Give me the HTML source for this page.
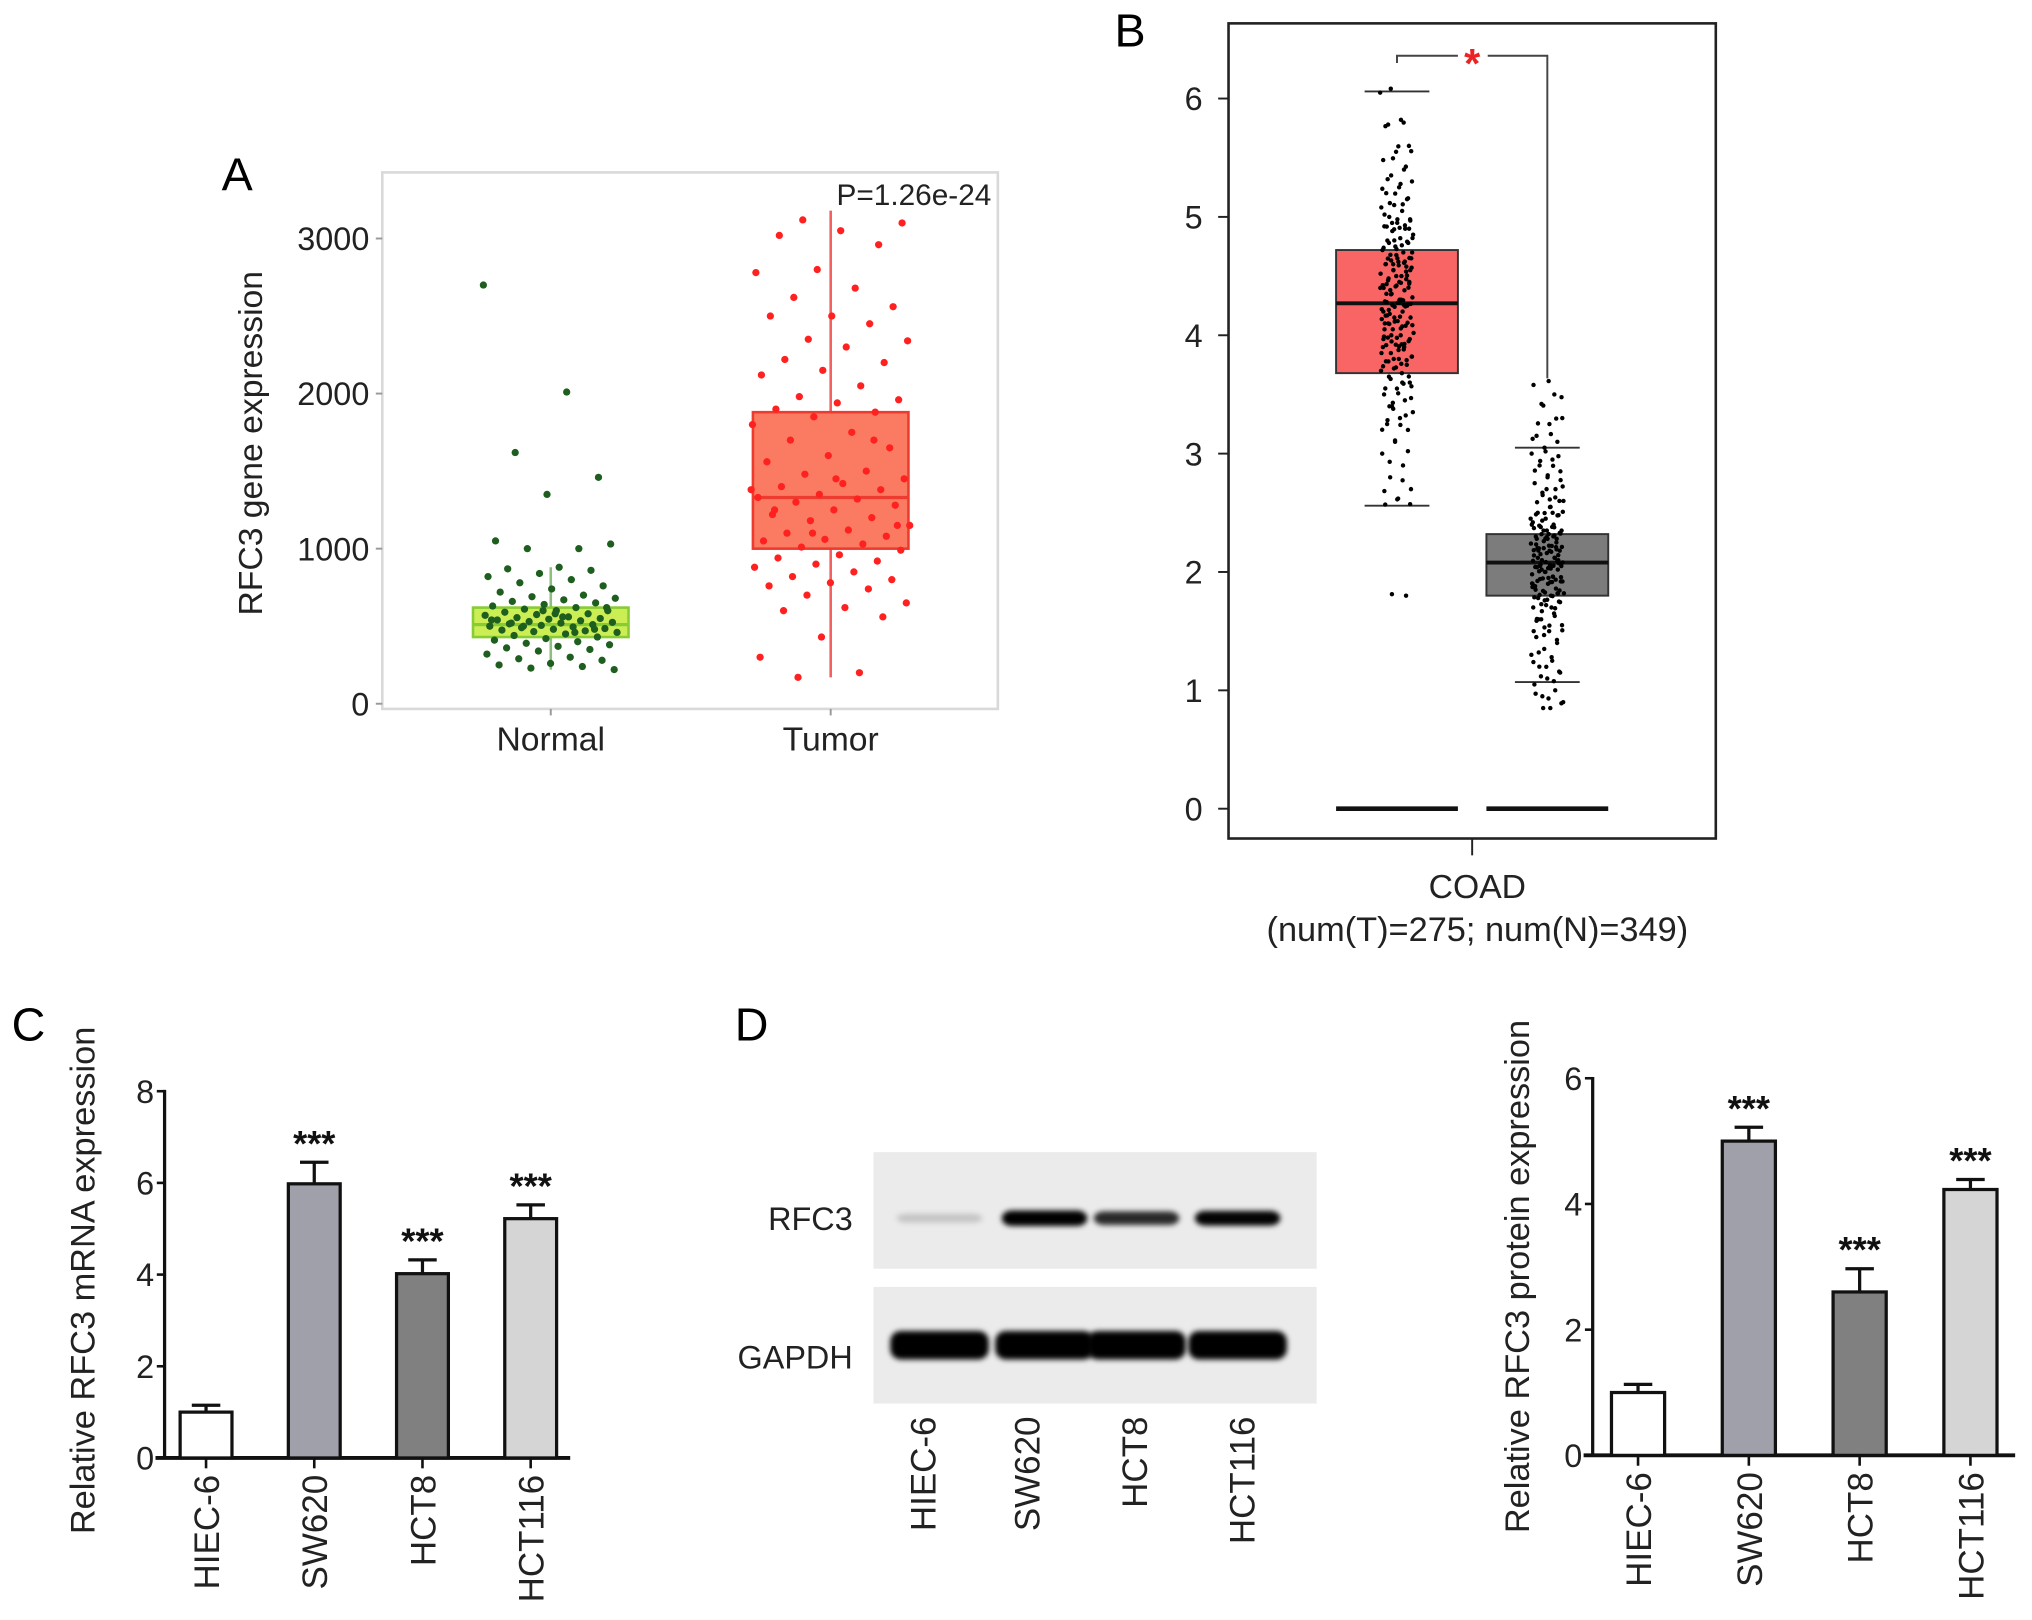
<!DOCTYPE html>
<html><head><meta charset="utf-8"><style>
html,body{margin:0;padding:0;background:#fff}
svg{display:block}
text{font-family:"Liberation Sans",Arial,sans-serif}
</style></head><body>
<svg id="fig" width="2032" height="1620" viewBox="0 0 1568 1250" xmlns="http://www.w3.org/2000/svg">
<defs>
<filter id="blur" x="-20%" y="-50%" width="140%" height="200%"><feGaussianBlur stdDeviation="3"/></filter>
<filter id="blur2" x="-20%" y="-50%" width="140%" height="200%"><feGaussianBlur stdDeviation="2"/></filter>
</defs>
<rect width="1568" height="1250" fill="#fff"/>
<g id="pA"></g>
<g id="pB"></g>
<g id="pC"></g>
<g id="pD"></g>
</svg>
<script>
// ---------- Panel A data ----------
const aCategories = ["Normal","Tumor"];
const aYTicks = [0,1000,2000,3000];
const aNormalBox = [430, 510, 620, 220, 880]; // q1, median, q3, whiskerLow, whiskerHigh
const aTumorBox = [1000, 1330, 1880, 170, 3180];
const aNormalPoints = [2700,2010,1620,1460,1350,1050,1000,1000,1030,880,870,860,840,820,800,780,760,740,720,700,690,680,670,660,650,640,630,620,610,600,600,590,580,575,570,560,555,550,545,540,535,530,525,520,515,510,505,500,495,490,485,480,475,470,465,460,450,440,430,420,410,400,390,380,370,360,350,340,320,300,290,280,260,250,240,230,220,560,520,480,600,540,460,500,620,580];
const aTumorPoints = [3120,3100,3050,3020,2960,2800,2780,2680,2620,2560,2500,2500,2450,2350,2340,2300,2220,2200,2150,2120,2050,1980,1960,1940,1900,1880,1850,1800,1750,1700,1650,1600,1560,1500,1480,1450,1420,1400,1380,1350,1330,1320,1300,1280,1250,1220,1200,1180,1150,1120,1100,1080,1060,1050,1030,1010,990,960,940,920,900,880,850,820,800,780,760,740,700,650,620,600,560,430,300,200,170,1150,1450,1250,1700,1100,1380];
const aPText = "P=1.26e-24";

// ---------- Panel B data ----------
const bYTicks = [0,1,2,3,4,5,6];
const bTumorBox = [3.68, 4.27, 4.72, 2.56, 6.06];
const bNormalBox = [1.80, 2.08, 2.32, 1.07, 3.05];
const bTumorPoints = [6.05,5.82,5.78,5.6,5.55,5.48,5.4,5.35,5.3,5.25,5.2,5.15,5.1,5.08,5.05,5.0,4.98,4.95,4.92,4.9,4.88,4.85,4.82,4.8,4.78,4.75,4.72,4.7,4.68,4.65,4.62,4.6,4.58,4.55,4.52,4.5,4.48,4.45,4.42,4.4,4.38,4.35,4.32,4.3,4.28,4.26,4.24,4.22,4.2,4.18,4.15,4.12,4.1,4.08,4.05,4.02,4.0,3.98,3.95,3.92,3.9,3.88,3.85,3.82,3.8,3.78,3.75,3.72,3.7,3.68,3.65,3.6,3.55,3.5,3.45,3.4,3.35,3.3,3.25,3.2,3.1,3.0,2.9,2.8,2.7,2.62,2.57,1.8,4.6,4.4,4.3,4.1,4.9,4.5,4.2,3.9,4.0,4.7,4.45,4.35,4.25,4.15,3.85,3.6,3.4,4.55,4.65,4.05];
const bNormalPoints = [3.58,3.5,3.42,3.3,3.25,3.15,3.1,3.05,3.0,2.95,2.9,2.85,2.8,2.75,2.7,2.65,2.6,2.55,2.5,2.48,2.45,2.42,2.4,2.38,2.35,2.32,2.3,2.28,2.26,2.24,2.22,2.2,2.18,2.16,2.14,2.12,2.1,2.08,2.06,2.04,2.02,2.0,1.98,1.96,1.94,1.92,1.9,1.88,1.86,1.84,1.82,1.8,1.78,1.75,1.72,1.7,1.65,1.6,1.55,1.5,1.45,1.4,1.35,1.3,1.25,1.2,1.15,1.1,1.05,1.0,0.95,0.9,0.85,2.2,2.1,2.0,1.9,2.3,2.15,2.05,1.95,1.85,2.25,2.35,2.45,1.7,1.6,2.6,2.7,1.5,2.12,2.02,1.92,2.18,2.28,1.82,1.76,2.4,2.5];
const bCategory = "COAD";
const bSubLabel = "(num(T)=275; num(N)=349)";

// ---------- Panel C data ----------
const cCategories = ["HIEC-6","SW620","HCT8","HCT116"];
const cValues = [1.0, 5.98, 4.02, 5.22];
const cErrors = [0.15, 0.47, 0.3, 0.3];
const cYTicks = [0,2,4,6,8];
const cSig = ["","***","***","***"];

// ---------- Panel D data ----------
const dCategories = ["HIEC-6","SW620","HCT8","HCT116"];
const dValues = [1.0, 5.0, 2.6, 4.23];
const dErrors = [0.13, 0.22, 0.37, 0.16];
const dYTicks = [0,2,4,6];
const dSig = ["","***","***","***"];
const dBandRFC3 = [0.15, 1.0, 0.75, 0.9]; // relative band intensity
const dBandGAPDH = [1.0, 1.0, 1.0, 1.0];

const NS = "http://www.w3.org/2000/svg";
function mk(parent, tag, attrs, txt){
  const e = document.createElementNS(NS, tag);
  for (const k in attrs) e.setAttribute(k, attrs[k]);
  if (txt !== undefined) e.textContent = txt;
  parent.appendChild(e);
  return e;
}
function jit(i, w){
  const f = ((i * 0.618034) % 1);
  return (f - 0.5) * 2 * w;
}
function jit2(i, w){
  const f = ((i * 0.41421356 + 0.3) % 1);
  return (f - 0.5) * 2 * w;
}

// ================= Panel A =================
(function(){
  const g = document.getElementById('pA');
  const y = v => 543 - v * (543 - 184) / 3000;
  const xc = [425, 641];
  let t = mk(g,'text',{x:183,y:147,'font-size':36,'text-anchor':'middle'},'A');
   
  let fr = mk(g,'rect',{x:295,y:133,width:475,height:414,fill:'none',stroke:'#d9d9d9','stroke-width':2});
   
  aYTicks.forEach(v=>{
    const tl = mk(g,'text',{x:285,y:y(v)+9,'font-size':25,'text-anchor':'end',fill:'#222'},String(v));
     
    mk(g,'line',{x1:290,x2:295,y1:y(v),y2:y(v),stroke:'#999','stroke-width':1.5});
  });
  const yt = mk(g,'text',{x:0,y:0,'font-size':26,'text-anchor':'middle',fill:'#222',transform:'translate(202,342) rotate(-90)'},'RFC3 gene expression');
   
  aCategories.forEach((c,i)=>{
    const l = mk(g,'text',{x:xc[i],y:579,'font-size':26,'text-anchor':'middle',fill:'#222'},c);
     
    mk(g,'line',{x1:xc[i],x2:xc[i],y1:547,y2:552,stroke:'#999','stroke-width':1.5});
  });
  const boxes = [
    {b:aNormalBox, pts:aNormalPoints, half:60, fill:'#ccee55', stroke:'#88cc33', wc:'#8fbf80', pc:'#1e5e1e', name:'normal', jw:52},
    {b:aTumorBox, pts:aTumorPoints, half:60, fill:'#fb7b62', stroke:'#ee3b30', wc:'#f26060', pc:'#ff2020', name:'tumor', jw:62}
  ];
  boxes.forEach((B,i)=>{
    const x = xc[i];
    const wl = mk(g,'line',{x1:x,x2:x,y1:y(B.b[3]),y2:y(B.b[4]),stroke:B.wc,'stroke-width':2});
     
    const r = mk(g,'rect',{x:x-B.half,y:y(B.b[2]),width:2*B.half,height:y(B.b[0])-y(B.b[2]),fill:B.fill,stroke:B.stroke,'stroke-width':2});
     
    const m = mk(g,'line',{x1:x-B.half,x2:x+B.half,y1:y(B.b[1]),y2:y(B.b[1]),stroke:B.stroke,'stroke-width':2.5});
     
    B.pts.forEach((v,k)=>{
      const c = mk(g,'circle',{cx:x+jit(k+i*7,B.jw),cy:y(v),r:2.8,fill:B.pc});
       
    });
  });
  const p = mk(g,'text',{x:765,y:158,'font-size':23,'text-anchor':'end',fill:'#222'},aPText);
   
})();

// ================= Panel B =================
(function(){
  const g = document.getElementById('pB');
  const y = v => 624 - v * (624 - 76) / 6;
  const xT = 1078, xN = 1194, half = 47;
  let t = mk(g,'text',{x:872,y:36,'font-size':36,'text-anchor':'middle'},'B');
   
  const fr = mk(g,'rect',{x:948,y:18,width:376,height:629,fill:'none',stroke:'#222','stroke-width':2});
   
  bYTicks.forEach(v=>{
    mk(g,'line',{x1:940,x2:948,y1:y(v),y2:y(v),stroke:'#222','stroke-width':1.5});
    const tl = mk(g,'text',{x:928,y:y(v)+9,'font-size':25,'text-anchor':'end',fill:'#222'},String(v));
     
  });
  mk(g,'line',{x1:1136,x2:1136,y1:647,y2:660,stroke:'#222','stroke-width':1.5});
  const c1 = mk(g,'text',{x:1140,y:693,'font-size':26,'text-anchor':'middle',fill:'#222'},bCategory);
   
  const c2 = mk(g,'text',{x:1140,y:726,'font-size':26.5,'text-anchor':'middle',fill:'#222'},bSubLabel);
   
  const sets = [
    {x:xT,b:bTumorBox,pts:bTumorPoints,fill:'#f96565',name:'tumor'},
    {x:xN,b:bNormalBox,pts:bNormalPoints,fill:'#7c7c7c',name:'normal'}
  ];
  sets.forEach((S,i)=>{
    [S.b[3],S.b[4]].forEach(v=>{
      const cap = mk(g,'line',{x1:S.x-25,x2:S.x+25,y1:y(v),y2:y(v),stroke:'#333','stroke-width':1.5});
       
    });
    const r = mk(g,'rect',{x:S.x-half,y:y(S.b[2]),width:2*half,height:y(S.b[0])-y(S.b[2]),fill:S.fill,stroke:'#333','stroke-width':1.5});
     
    const m = mk(g,'line',{x1:S.x-half,x2:S.x+half,y1:y(S.b[1]),y2:y(S.b[1]),stroke:'#111','stroke-width':3});
     
    const z = mk(g,'line',{x1:S.x-half,x2:S.x+half,y1:y(0),y2:y(0),stroke:'#111','stroke-width':3.5});
     
    S.pts.forEach((v,k)=>{
      const c = mk(g,'circle',{cx:S.x+jit(k+i*5,13),cy:y(v),r:1.7,fill:'#000'});
       
      const c2 = mk(g,'circle',{cx:S.x+jit2(k+i*3,12),cy:y(v)+jit(k*3,3),r:1.7,fill:'#000'});
       
    });
  });
  const br = mk(g,'path',{d:`M${xT} ${y(6.3)} V43 H1125 M1148 43 H${xN} V${y(bTumorBox[0])+4}`,fill:'none',stroke:'#444','stroke-width':1.5});
   
  const st = mk(g,'text',{x:1136,y:60,'font-size':32,'font-weight':'bold','text-anchor':'middle',fill:'#ee2222'},'*');
   
})();

// ================= Bar chart helper =================
function barChart(g, o){
  const y = v => o.y0 - v * (o.y0 - o.yTop) / o.yMax;
  o.ticks.forEach(v=>{
    mk(g,'line',{x1:o.ax-6,x2:o.ax,y1:y(v),y2:y(v),stroke:'#111','stroke-width':2});
    const tl = mk(g,'text',{x:o.ax-8,y:y(v)+9,'font-size':25,'text-anchor':'end',fill:'#222'},String(v));
     
  });
  const ya = mk(g,'line',{x1:o.ax,x2:o.ax,y1:o.yTop-1,y2:o.y0,stroke:'#111','stroke-width':2.5});
   
  const xa = mk(g,'line',{x1:o.ax-7,x2:o.xEnd,y1:o.y0,y2:o.y0,stroke:'#111','stroke-width':3});
   
  const yt = mk(g,'text',{x:0,y:0,'font-size':26.5,'text-anchor':'middle',fill:'#222',transform:`translate(${o.titleX},${o.titleY}) rotate(-90)`},o.title);
   
  const fills = ['#ffffff','#a0a0ab','#808080','#d5d5d5'];
  o.cats.forEach((c,i)=>{
    const cx = o.x0 + i*o.step;
    const top = y(o.vals[i]), et = y(o.vals[i]+o.errs[i]);
    const eb = mk(g,'line',{x1:cx,x2:cx,y1:top,y2:et,stroke:'#111','stroke-width':2.5});
     
    const ec = mk(g,'line',{x1:cx-11,x2:cx+11,y1:et,y2:et,stroke:'#111','stroke-width':2.5});
     
    const r = mk(g,'rect',{x:cx-o.bw/2,y:top,width:o.bw,height:o.y0-top,fill:fills[i],stroke:'#111','stroke-width':2.5});
     
    mk(g,'line',{x1:cx,x2:cx,y1:o.y0,y2:o.y0+8,stroke:'#111','stroke-width':2});
    if (o.sig[i]) {
      const s = mk(g,'text',{x:cx,y:et-5,'font-size':28,'font-weight':'bold','text-anchor':'middle',fill:'#111'},o.sig[i]);
       
    }
    const l = mk(g,'text',{x:0,y:0,'font-size':27,'text-anchor':'end',fill:'#222',transform:`translate(${cx+10},${o.y0+13}) rotate(-90)`},c);
     
  });
}

// ================= Panel C =================
(function(){
  const g = document.getElementById('pC');
  const t = mk(g,'text',{x:22,y:803,'font-size':36,'text-anchor':'middle'},'C');
   
  barChart(g,{p:'c',ax:127,y0:1125,yTop:842,yMax:8,xEnd:440,x0:159,step:83.5,bw:40,
    cats:cCategories,vals:cValues,errs:cErrors,ticks:cYTicks,sig:cSig,
    title:'Relative RFC3 mRNA expression',titleX:73,titleY:988});
})();

// ================= Panel D =================
(function(){
  const g = document.getElementById('pD');
  const t = mk(g,'text',{x:580,y:803,'font-size':36,'text-anchor':'middle'},'D');
   
  const lanes = [725, 806, 877, 955];
  const rows = [{y0:889,h:90,by:940,vals:dBandRFC3,bh:12,name:'rfc3'},{y0:993,h:90,by:1038,vals:dBandGAPDH,bh:22,name:'gapdh'}];
  rows.forEach(R=>{
    const bg = mk(g,'rect',{x:674,y:R.y0,width:342,height:R.h,fill:'#ebebeb'});
     
    R.vals.forEach((v,i)=>{
      const w = R.name==='gapdh'?76:66;
      const e = mk(g,'rect',{x:lanes[i]-w/2,y:R.by-R.bh*(0.5+0.5*v)/2,width:w,height:R.bh*(0.5+0.5*v),rx:8,fill:'#000','fill-opacity':Math.min(1,v*1.1),filter:'url(#blur2)'});
       
    });
  });
  const l1 = mk(g,'text',{x:658,y:949,'font-size':25,'text-anchor':'end',fill:'#222'},'RFC3');
   
  const l2 = mk(g,'text',{x:658,y:1056,'font-size':25,'text-anchor':'end',fill:'#222'},'GAPDH');
   
  ['HIEC-6','SW620','HCT8','HCT116'].forEach((c,i)=>{
    const x = [712,792,875,958][i];
    const l = mk(g,'text',{x:0,y:0,'font-size':27,'text-anchor':'end',fill:'#222',transform:`translate(${x+10},1093) rotate(-90)`},c);
     
  });
  barChart(g,{p:'d',ax:1229,y0:1123,yTop:832,yMax:6,xEnd:1555,x0:1264,step:85.5,bw:41,
    cats:dCategories,vals:dValues,errs:dErrors,ticks:dYTicks,sig:dSig,
    title:'Relative RFC3 protein expression',titleX:1180,titleY:985});
})();
</script>
</body></html>
